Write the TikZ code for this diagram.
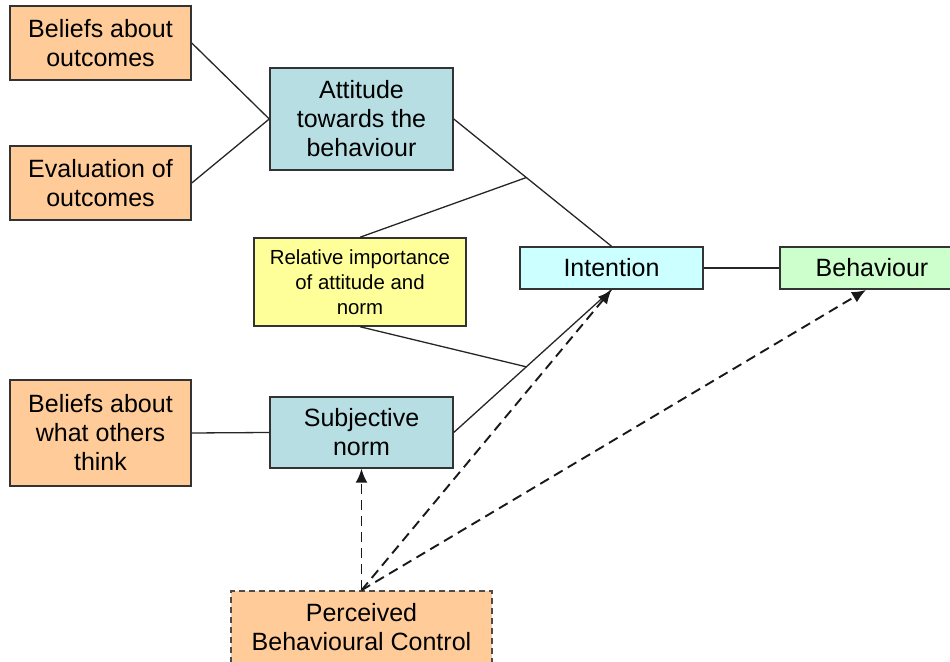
\documentclass[tikz,border=0pt]{standalone}
\usepackage{fontspec}
\setmainfont{Liberation Sans}
\usetikzlibrary{arrows.meta}

\definecolor{peach}{HTML}{FFCC99}
\definecolor{teal}{HTML}{B7DEE3}
\definecolor{ice}{HTML}{CCFFFF}
\definecolor{mint}{HTML}{CCFFCC}
\definecolor{lemon}{HTML}{FFFF99}

\begin{document}
\begin{tikzpicture}[x=0.5pt, y=-0.5pt,
		box/.style={draw=black!80, line width=0.75pt, align=center, inner sep=0pt,
			font=\fontsize{12.5}{14.5}\selectfont},
		link/.style={draw=black!85, line width=0.65pt},
		ctrl/.style={draw=black!90, line width=0.95pt, dash pattern=on 5pt off 3pt,
			-{Latex[length=7pt, width=6pt]}}]
		\useasboundingbox (0,0) rectangle (950,662);
		\clip (0,0) rectangle (950,662);
		\node[box, fill=peach, minimum width=90.5pt, minimum height=37pt] (bel) at (100.5,43) {Beliefs about\\outcomes};
		\node[box, fill=peach, minimum width=90.5pt, minimum height=37pt] (eval) at (100.5,183) {Evaluation of\\outcomes};
		\node[box, fill=teal, minimum width=91.5pt, minimum height=51pt] (att) at (361.5,119) {Attitude\\towards the\\behaviour};
		\node[box, fill=lemon, minimum width=106pt, minimum height=44pt,
			font=\fontsize{10.2}{12.5}\selectfont] (rel) at (360,282) {Relative importance\\of attitude and\\norm};
		\node[box, fill=ice, minimum width=91.5pt, minimum height=21pt] (int) at (611.5,268) {Intention};
		\node[box, fill=mint, minimum width=92pt, minimum height=21pt] (beh) at (872,268) {Behaviour};
		\node[box, fill=peach, minimum width=90.5pt, minimum height=53pt] (oth) at (100.5,433) {Beliefs about\\what others\\think};
		\node[box, fill=teal, minimum width=91.5pt, minimum height=35.5pt] (subj) at (361.5,432.5) {Subjective\\norm};
		\node[box, fill=peach, draw=black!70, dash pattern=on 3pt off 2pt, minimum width=130.5pt, minimum height=36pt] (pbc) at (361.5,627) {Perceived\\Behavioural Control};
		\coordinate (behin) at (866,290);
		\draw[link] (bel.east) -- (att.west);
		\draw[link] (eval.east) -- (att.west);
		\draw[link] (oth.east) -- (subj.west);
		\draw[link] (att.east) -- coordinate[pos=0.46] (up) (int.north);
		\draw[link] (subj.east) -- coordinate[pos=0.46] (down) (int.south);
		\draw[link] (rel.north) -- (up);
		\draw[link] (rel.south) -- (down);
		\draw[link] (int.east) -- (beh.west);
		\draw[ctrl] (pbc.north) -- (subj.south);
		\draw[ctrl] (pbc.north) -- (int.south);
		\draw[ctrl] (pbc.north) -- (behin);
		\end{tikzpicture}
\end{document}
